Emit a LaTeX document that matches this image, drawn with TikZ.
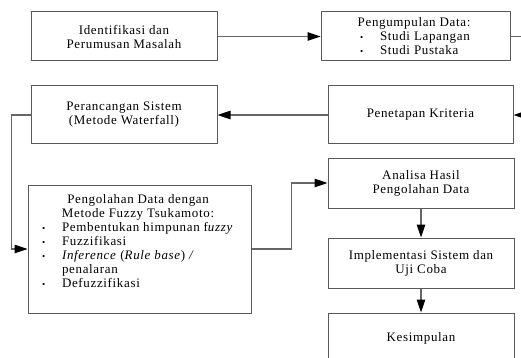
\documentclass[tikz,border=0pt]{standalone}
\usepackage{fontspec}
\setmainfont[LetterSpace=5]{Liberation Serif}
\usepackage{tikz}
\usetikzlibrary{arrows.meta}
\tikzstyle{mybox} = [draw=black!65, line width=1pt, rectangle, minimum width=186pt, minimum height=50pt, align=center, inner sep=2pt, font=\fontsize{13}{14}\selectfont]
\tikzstyle{myline} = [draw=black!60, line width=1.1pt, -{Triangle[length=13pt,width=8.5pt,color=black]}]
\tikzstyle{plainline} = [draw=black!60, line width=1.1pt]
\newcommand{\bul}[2][14pt]{\hspace*{#1}\makebox[20pt][l]{\fontsize{9}{9}\selectfont\textbullet}#2\par}

\begin{document}
\begin{tikzpicture}[x=1pt,y=-1pt]
\useasboundingbox (0,0) rectangle (521,358);
\clip (0,0) rectangle (521,358);
% baris atas
\node [mybox, minimum height=49pt] (ident) at (124,36.5) {Identifikasi dan\\Perumusan Masalah};
\node [mybox, minimum height=49pt, inner sep=0pt] (kumpul) at (416,36.5) {%
    \begin{minipage}{186pt}
        \centering Pengumpulan Data:\par
        \raggedright
        \bul[39pt]{Studi Lapangan}
        \bul[39pt]{Studi Pustaka}
    \end{minipage}
};
% baris kedua
\node [mybox, minimum height=58pt] (rancang) at (124,115) {Perancangan Sistem\\(Metode Waterfall)};
\node [mybox, minimum width=185pt, minimum height=58pt] (tetap) at (420.5,115) {Penetapan Kriteria};
% pengolahan data
\node [mybox, inner sep=0pt] (olah) at (140,249) {%
    \begin{minipage}[c][128pt][t]{220pt}     %isi kotak
        \vspace*{9pt}
        \centering Pengolahan Data dengan\\ Metode Fuzzy Tsukamoto:\par
        \raggedright
        \bul{Pembentukan himpunan f\textit{uzzy}}
        \bul{Fuzzifikasi}
        \bul{\textit{Inference} (\textit{Rule base}) \textit{/}}
        \hspace*{34pt}penalaran\par
        \bul{Defuzzifikasi}
    \end{minipage}
};
% kolom kanan
\node [mybox] (analisa) at (421,183) {Analisa Hasil\\Pengolahan Data};
\node [mybox] (impl) at (421,263) {Implementasi Sistem dan\\Uji Coba};
\node [mybox] (simpul) at (421,338) {Kesimpulan};
% garis keluar/masuk tepi kanan
\coordinate (kanan1) at (535,36.5);
\coordinate (kanan2) at (535,115);
% panah
\draw [myline] (ident.east) -- (kumpul.west);
\draw [plainline] (kumpul.east) -- (kanan1);
\draw [myline] (kanan2) -- (tetap.east);
\draw [myline] (tetap.west) -- (rancang.east);
\draw [myline] (rancang.west) -- ++(-19,0) |- (olah.west);
\draw [myline] (olah.east) -- ++(39,0) |- (analisa.west);
\draw [myline] (analisa.south) -- (impl.north);
\draw [myline] (impl.south) -- (simpul.north);
\end{tikzpicture}
\end{document}
